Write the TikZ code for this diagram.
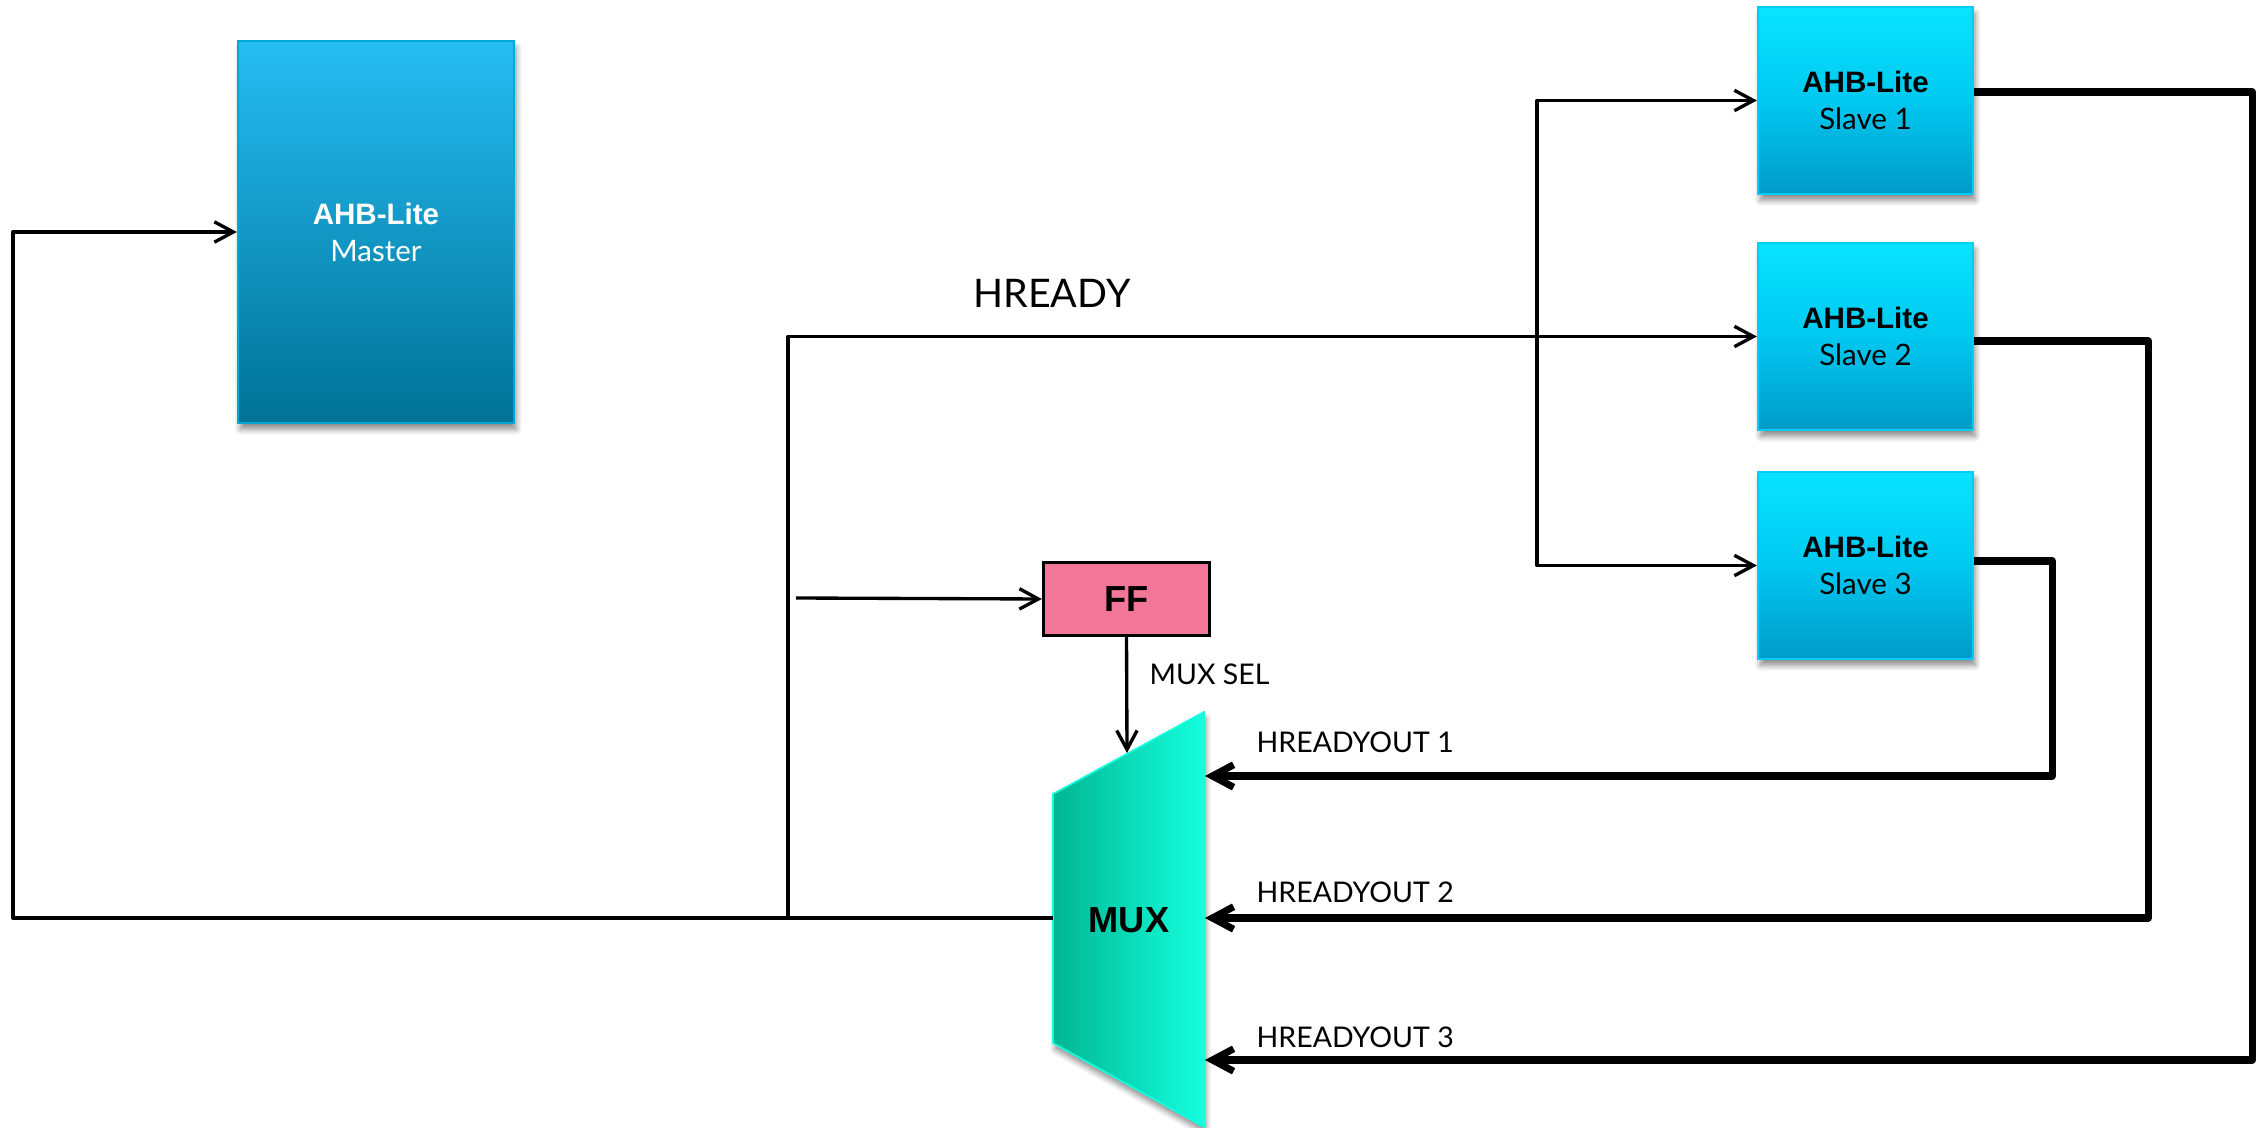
\documentclass[tikz,border=0pt]{standalone}
\usepackage{fontspec}
\setmainfont{Lato}
\newfontfamily\arialfont{Liberation Sans}
\usetikzlibrary{arrows.meta,calc,shadows.blur}

\definecolor{mastertop}{RGB}{38,189,243}
\definecolor{masterbot}{RGB}{0,114,150}
\definecolor{masteredge}{RGB}{0,168,216}
\definecolor{slavetop}{RGB}{8,228,255}
\definecolor{slavemid}{RGB}{0,200,240}
\definecolor{slavebot}{RGB}{0,155,200}
\definecolor{slaveedge}{RGB}{0,205,245}
\definecolor{ffpink}{RGB}{242,118,152}
\definecolor{muxleft}{RGB}{0,182,146}
\definecolor{muxright}{RGB}{20,255,222}

\begin{document}
\begin{tikzpicture}[x=0.01cm,y=-0.01cm,
  boxshadow/.style={blur shadow={shadow xshift=0.6pt,shadow yshift=-1.8pt,
      shadow blur radius=1.6pt,shadow blur steps=6,shadow opacity=45}},
  masterbox/.style={rectangle,draw=masteredge,line width=0.6pt,
      top color=mastertop,bottom color=masterbot,
      minimum width=2.76cm,minimum height=3.82cm,inner sep=0pt,
      text=white,align=center,boxshadow,
      font=\fontsize{8.4}{10.5}\selectfont},
  slavebox/.style={rectangle,draw=slaveedge,line width=0.6pt,
      top color=slavetop,bottom color=slavebot,middle color=slavemid,
      minimum width=2.15cm,minimum height=1.87cm,inner sep=0pt,
      text=black,align=center,boxshadow,
      font=\fontsize{8.4}{10.5}\selectfont},
  ffbox/.style={rectangle,draw=black,line width=0.9pt,fill=ffpink,
      minimum width=1.66cm,minimum height=0.73cm,inner sep=0pt,
      font=\arialfont\bfseries\fontsize{10.3}{12}\selectfont},
  muxshape/.style={left color=muxleft,right color=muxright,
      draw=muxright,line width=0.5pt,boxshadow},
  sig/.style={line width=0.95pt,line join=round},
  sigarrow/.style={sig,-{Straight Barb[length=5.4pt,width=5.8pt]}},
  busarrow/.style={line width=2pt,line join=round,
      -{Straight Barb[length=6pt,width=6.4pt]}},
  lbl/.style={font=\fontsize{8.1}{10}\selectfont,inner sep=0pt},
  biglbl/.style={font=\fontsize{11.2}{14}\selectfont,inner sep=0pt}]

\useasboundingbox (0,0) rectangle (2267,1128);

% bus master and slaves
\node[masterbox] (m) at (376,232)
  {{\arialfont\bfseries AHB-Lite}\\Master};
\node[slavebox] (s1) at (1865.5,100.5)
  {{\arialfont\bfseries AHB-Lite}\\Slave 1};
\node[slavebox] (s2) at (1865.5,336.5)
  {{\arialfont\bfseries AHB-Lite}\\Slave 2};
\node[slavebox] (s3) at (1865.5,565.5)
  {{\arialfont\bfseries AHB-Lite}\\Slave 3};

% select flip-flop
\node[ffbox] (ff) at (1126.5,599) {FF};

% multiplexer body
\path[muxshape] (1053,794) -- (1204,712) -- (1204,1127) -- (1053,1043) -- cycle;
\node[font=\arialfont\bfseries\fontsize{10.3}{12}\selectfont] (mux) at (1129,920) {MUX};

% connection points
\coordinate (muxout) at (1053,918);
\coordinate (wrap)   at (13,918);
\coordinate (tee)    at (788,918);
\coordinate (split)  at (1537,337);
\coordinate (ffin)   at (796,598);
\coordinate (sel)    at (1127,753);
\coordinate (in1)    at (1205,776);
\coordinate (in2)    at (1205,918);
\coordinate (in3)    at (1205,1060);

% HREADY back to the master and out to the slaves
\draw[sigarrow] (muxout) -- (wrap) |- (m.west);
\draw[sigarrow] (tee) |- (s2.west);
\draw[sigarrow] (split) |- (s1.west);
\draw[sigarrow] (split) |- (s3.west);

% flip-flop input and mux select
\draw[sigarrow] (ffin) -- (ff.west);
\draw[sigarrow] (ff.south) -- (sel);

% HREADYOUT buses into the mux
\draw[busarrow] ($(s1.east)+(0,-8.5)$) -- ++(278,0) |- (in3);
\draw[busarrow] ($(s2.east)+(0,4.5)$) -- ++(174,0) |- (in2);
\draw[busarrow] ($(s3.east)+(0,-4.5)$) -- ++(78,0) |- (in1);

% labels
\node[biglbl,anchor=base] (hready) at (1052,308) {HREADY};
\node[lbl,anchor=base west] (muxsel) at (1149,684) {MUX SEL};
\node[lbl,anchor=base west] (out1) at (1256,752) {HREADYOUT 1};
\node[lbl,anchor=base west] (out2) at (1256,902) {HREADYOUT 2};
\node[lbl,anchor=base west] (out3) at (1256,1047) {HREADYOUT 3};

\end{tikzpicture}
\end{document}
